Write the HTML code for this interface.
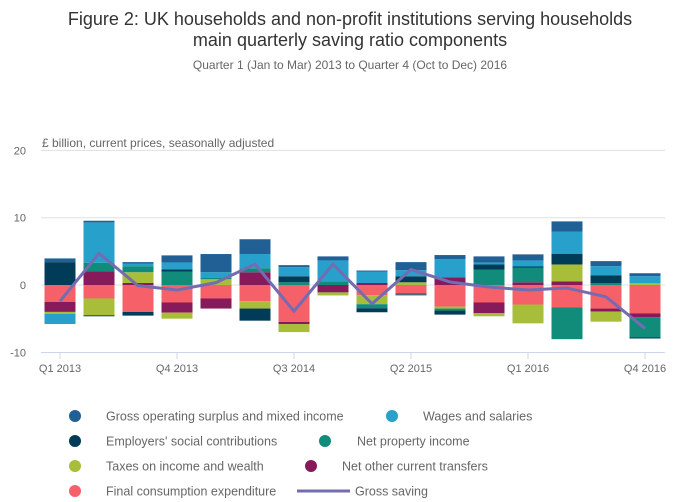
<!DOCTYPE html>
<html><head><meta charset="utf-8"><style>
body{margin:0;background:#fff;}
svg{display:block;font-family:"Liberation Sans",sans-serif;}
</style></head><body>
<svg id="chart" width="700" height="502">
<text x="350" y="25" text-anchor="middle" font-size="18" fill="#333">Figure 2: UK households and non-profit institutions serving households</text>
<text x="350" y="46" text-anchor="middle" font-size="18" fill="#333">main quarterly saving ratio components</text>
<text x="350" y="69" text-anchor="middle" font-size="12" fill="#666">Quarter 1 (Jan to Mar) 2013 to Quarter 4 (Oct to Dec) 2016</text>
<text x="42" y="147" font-size="12" fill="#666">£ billion, current prices, seasonally adjusted</text>
<g id="grid"></g><g id="bars"></g><g id="line"></g><g id="xaxis"></g><g id="legend"></g>
</svg>
<script>
const categories=["Q1 2013","Q2 2013","Q3 2013","Q4 2013","Q1 2014","Q2 2014","Q3 2014","Q4 2014","Q1 2015","Q2 2015","Q3 2015","Q4 2015","Q1 2016","Q2 2016","Q3 2016","Q4 2016"];
const xTickLabels=["Q1 2013","Q4 2013","Q3 2014","Q2 2015","Q1 2016","Q4 2016"];
const yTicks=[20,10,0,-10];
const finalConsumption=[-2.5,-2.0,-4.0,-2.6,-2.0,-2.4,-5.5,0,-1.5,-1.25,-3.2,-2.6,-2.9,-3.3,-3.5,-4.2];
const netOtherTransfers=[-1.5,2.0,0.3,-1.5,-1.5,1.9,-0.3,-1.1,0.3,-0.15,1.15,-1.6,0.4,0.55,-0.45,-0.6];
const taxesIncomeWealth=[-0.3,-2.5,1.6,-0.9,0.85,-1.1,-1.2,-0.45,-1.35,0.4,-0.3,-0.45,-2.8,2.5,-1.5,0.25];
const netPropertyIncome=[0,1.3,0.9,2.0,0.25,0.6,0.4,0.55,-0.6,-0.15,-0.3,2.3,2.2,-4.75,0.25,-3.0];
const employersContrib=[3.4,-0.15,-0.55,0.3,0,-1.8,0.9,0,-0.6,0.9,-0.6,0.75,0.15,1.6,1.2,-0.15];
const wagesSalaries=[-1.5,6.0,0.35,1.05,0.8,2.1,1.35,3.1,1.7,0.9,2.7,0.3,0.9,3.3,1.35,1.05];
const grossOperating=[0.55,0.25,0.25,1.05,2.7,2.2,0.3,0.6,0.15,1.2,0.6,0.9,0.9,1.5,0.75,0.45];
const grossSaving=[-2.4,4.7,-0.1,-0.75,0.35,3.1,-3.9,3.1,-2.8,2.3,0.45,-0.3,-0.75,-0.45,-1.75,-6.45];
const NS="http://www.w3.org/2000/svg";
function mk(tag,attrs,parent){const e=document.createElementNS(NS,tag);for(const k in attrs)e.setAttribute(k,attrs[k]);parent.appendChild(e);return e;}
function yS(v){return 285-v*6.73;}
function xS(i){return 60+i*39;}
const grid=document.getElementById('grid');
yTicks.forEach(t=>{
  if(t!==-10){const l=mk('line',{x1:41,x2:665,y1:yS(t),y2:yS(t),stroke:'#e0e0e0','stroke-width':1},grid);
  
  }
  const tx=mk('text',{x:26,y:yS(t)+4,'text-anchor':'end','font-size':11,fill:'#666'},grid);
  tx.textContent=t;
  
  
});
const series=[
 {name:'Final consumption expenditure',vals:finalConsumption,color:'#f66068',key:'final-consumption'},
 {name:'Net other current transfers',vals:netOtherTransfers,color:'#871a5b',key:'net-other-transfers'},
 {name:'Taxes on income and wealth',vals:taxesIncomeWealth,color:'#a8bd3a',key:'taxes'},
 {name:'Net property income',vals:netPropertyIncome,color:'#118c7b',key:'net-property'},
 {name:"Employers' social contributions",vals:employersContrib,color:'#003c57',key:'employers-contributions'},
 {name:'Wages and salaries',vals:wagesSalaries,color:'#27a0cc',key:'wages'},
 {name:'Gross operating surplus and mixed income',vals:grossOperating,color:'#206095',key:'gross-operating'}];
const bars=document.getElementById('bars');
categories.forEach((c,i)=>{
  let pos=0,neg=0;
  series.forEach(s=>{
    const v=s.vals[i];if(!v)return;
    let y0,y1;
    if(v>0){y0=pos;y1=pos+v;pos=y1;}else{y0=neg;y1=neg+v;neg=y1;}
    const top=Math.min(yS(y0),yS(y1)),h=Math.abs(yS(y1)-yS(y0));
    const r=mk('rect',{x:xS(i)-15.5,y:top,width:31,height:h,fill:s.color},bars);
    
    
  });
});
const line=document.getElementById('line');
const pts=grossSaving.map((v,i)=>xS(i)+','+yS(v)).join(' ');
const pl=mk('polyline',{points:pts,fill:'none',stroke:'#746cb1','stroke-width':3,'stroke-linejoin':'round'},line);


const xa=document.getElementById('xaxis');
const ax=mk('line',{x1:41,x2:665,y1:352.5,y2:352.5,stroke:'#ccd6eb','stroke-width':1},xa);


xTickLabels.forEach(lab=>{
  const i=categories.indexOf(lab);
  const tk=mk('line',{x1:xS(i),x2:xS(i),y1:352,y2:359,stroke:'#ccd6eb','stroke-width':1},xa);
  
  
  const t=mk('text',{x:xS(i),y:372,'text-anchor':'middle','font-size':11,fill:'#666'},xa);
  t.textContent=lab;
  
  
});
const leg=document.getElementById('legend');
const items=[
 {s:6,mx:75,tx:106,y:416},{s:5,mx:392,tx:423,y:416},
 {s:4,mx:75,tx:106,y:441},{s:3,mx:325,tx:357,y:441},
 {s:2,mx:75,tx:106,y:466},{s:1,mx:311,tx:342,y:466},
 {s:0,mx:75,tx:106,y:491}];
items.forEach(it=>{
  const s=series[it.s];
  const g=mk('g',{},leg);
  
  
  mk('circle',{cx:it.mx,cy:it.y,r:6,fill:s.color},g);
  const t=mk('text',{x:it.tx,y:it.y+4.5,'font-size':12.5,fill:'#666'},g);
  t.textContent=s.name;
});
const gs=mk('g',{},leg);


mk('line',{x1:297,x2:350,y1:491,y2:491,stroke:'#746cb1','stroke-width':3},gs);
const gt=mk('text',{x:355,y:495.5,'font-size':12.5,fill:'#666'},gs);
gt.textContent='Gross saving';
</script>
</body></html>
